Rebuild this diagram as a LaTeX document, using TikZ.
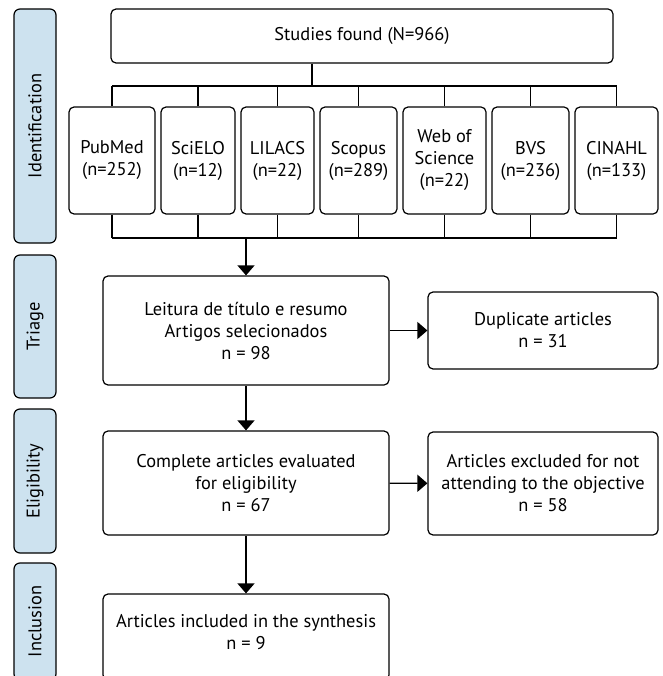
\documentclass[tikz,border=0pt]{standalone}
\usepackage{fontspec}
\setmainfont{PT Sans}
\usetikzlibrary{arrows.meta}
\definecolor{sidefill}{RGB}{205,226,239}
\begin{document}
\begin{tikzpicture}[x=1pt,y=-1pt, line width=1.2pt,
  txt/.style={font=\fontsize{18.4}{22}\selectfont},
  box/.style={draw, rounded corners=5pt, align=center, inner sep=0pt, txt},
  side/.style={draw, fill=sidefill, rounded corners=6pt, inner sep=0pt, rotate=90, minimum height=42pt, txt},
  arr/.style={-{Triangle[width=17pt,length=10pt]}}]
\useasboundingbox (0,0) rectangle (662,676);
% side labels
\node[side, minimum width=234pt] (sid) at (35,126) {Identification};
\node[side, minimum width=143pt] (str) at (35,326.5) {Triage};
\node[side, minimum width=144pt] (sel) at (35,481) {Eligibility};
\node[side, minimum width=117pt] (sin) at (35,621.5) {Inclusion};
% top box
\node[box, minimum width=502pt, minimum height=54pt] (top) at (362,36) {Studies found (N=966)};
% sources
\node[box, minimum width=86pt, minimum height=107pt] (pub) at (112,160.5) {PubMed\\(n=252)};
\node[box, minimum width=74pt, minimum height=107pt] (sci) at (198,160.5) {SciELO\\(n=12)};
\node[box, minimum width=73pt, minimum height=107pt] (lil) at (277.5,160.5) {LILACS\\(n=22)};
\node[box, minimum width=77pt, minimum height=107pt] (sco) at (358.5,160.5) {Scopus\\(n=289)};
\node[box, minimum width=83pt, minimum height=107pt] (wos) at (444.5,160.5) {Web of\\Science\\(n=22)};
\node[box, minimum width=77pt, minimum height=107pt] (bvs) at (530.5,160.5) {BVS\\(n=236)};
\node[box, minimum width=83pt, minimum height=107pt] (cin) at (616.5,160.5) {CINAHL\\(n=133)};
% buses
\coordinate (tb) at (312,86);
\coordinate (bb) at (245,238);
\draw (top.south -| tb) -- (tb);
\draw (pub.north |- tb) -- (cin.north |- tb);
\draw (pub.south |- bb) -- (cin.south |- bb);
\foreach \n in {pub,sci,lil,sco,wos,bvs,cin}{
  \draw (\n.north) -- (\n.north |- tb);
  \draw (\n.south) -- (\n.south |- bb);
}
% flow boxes
\node[box, minimum width=286pt, minimum height=109pt] (tri) at (246,330.5) {Leitura de título e resumo\\Artigos selecionados\\n = 98};
\node[box, minimum width=230pt, minimum height=77pt] (dup) at (543,330.5) {Duplicate articles\\n = 31};
\node[box, minimum width=286pt, minimum height=104pt] (eli) at (246,483) {Complete articles evaluated\\for eligibility\\n = 67};
\node[box, minimum width=230pt, minimum height=103pt] (exc) at (543,483.5) {Articles excluded for not\\attending to the objective\\n = 58};
\node[box, minimum width=286pt, minimum height=86pt] (inc) at (246,637) {};
\node[txt, align=center] (inctext) at (246,632) {Articles included in the synthesis\\n = 9};
% arrows
\draw[arr] (tri.north |- bb) -- (tri.north);
\draw[arr] (tri) -- (dup);
\draw[arr] (tri.south) -- (eli.north);
\draw[arr] (eli) -- (exc);
\draw[arr] (eli.south) -- (inc.north);
\end{tikzpicture}
\end{document}
